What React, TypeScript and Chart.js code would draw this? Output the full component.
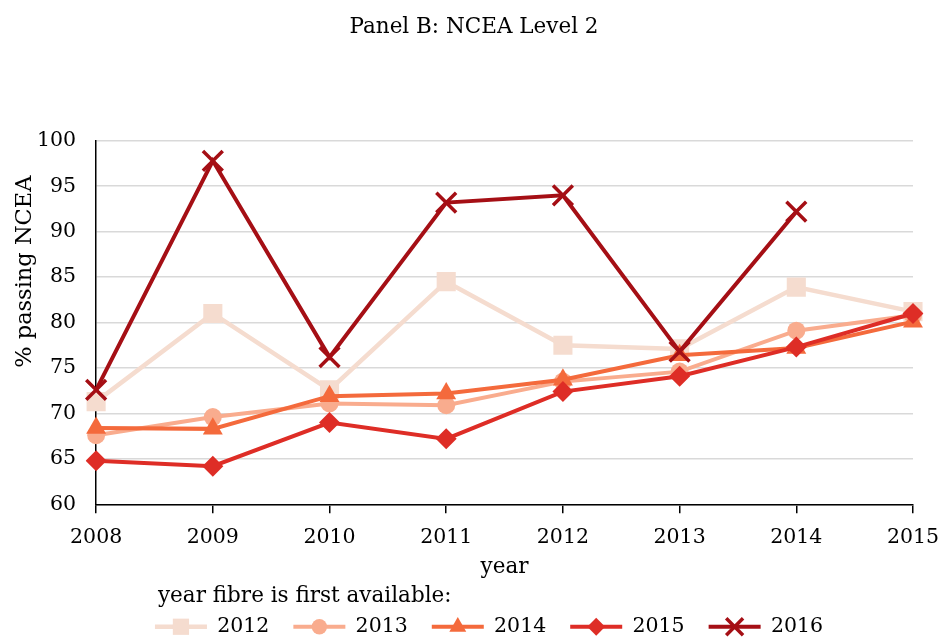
import React, { useEffect, useRef } from "react";
import { Chart, registerables } from "chart.js";
import { drawPoint } from "chart.js/helpers";

Chart.register(...registerables);

const years = ["2008", "2009", "2010", "2011", "2012", "2013", "2014", "2015"];
const seriesNames = ["2012", "2013", "2014", "2015", "2016"];
const s2012 = [71.3, 81.0, 72.6, 84.5, 77.5, 77.1, 83.9, 81.2];
const s2013 = [67.6, 69.6, 71.1, 70.9, 73.5, 74.6, 79.1, 80.8];
const s2014 = [68.4, 68.3, 71.9, 72.2, 73.7, 76.4, 77.2, 80.1];
const s2015 = [64.8, 64.2, 69.0, 67.2, 72.4, 74.1, 77.3, 81.0];
const s2016 = [72.6, 97.8, 76.2, 93.2, 94.0, 76.8, 92.2, null];
const yTicks = [60, 65, 70, 75, 80, 85, 90, 95, 100];
const legendTitleText = "year fibre is first available:";

const colors = ["#F5DCCF", "#F9AC8E", "#F46A3C", "#DE2D26", "#A50F15"];
const pointStyles = ["rect", "circle", "triangle", "rectRot", "crossRot"];
const pointRadii = [13.5, 9, 11.5, 10.5, 14];
const lineWidths = [4.5, 4, 4, 4, 4];

const FONT = "'DejaVu Serif', serif";
const LEGEND_SHIFT = 15;

export default function App() {
  const ref = useRef<HTMLCanvasElement | null>(null);
  useEffect(() => {
    document.body.style.margin = "0";
    const allData = [s2012, s2013, s2014, s2015, s2016];
    const datasets = allData.map((d, i) => ({
      label: seriesNames[i],
      data: d,
      borderColor: colors[i],
      backgroundColor: colors[i],
      borderWidth: lineWidths[i],
      pointStyle: pointStyles[i],
      pointRadius: pointRadii[i],
      pointBorderWidth: i === 4 ? 3.5 : 0,
      pointBorderColor: colors[i],
      pointBackgroundColor: colors[i],
      tension: 0,
      order: 4 - i,
      spanGaps: false,
    }));

    const legendShift = {
      id: "legendShift",
      afterLayout(chart: any) {
        const lg = chart.legend;
        if (lg) {
          lg.left += LEGEND_SHIFT;
          lg.right += LEGEND_SHIFT;
        }
      },
    };

    const customLegend = {
      id: "customLegend",
      afterDraw(chart: any) {
        const legend = chart.legend;
        if (!legend || !legend.legendHitBoxes) return;
        const ctx = chart.ctx;
        const boxW = legend.options.labels.boxWidth;
        const hb0 = legend.legendHitBoxes[0];
        ctx.save();
        ctx.font = `21.5px ${FONT}`;
        ctx.fillStyle = "#000";
        ctx.textAlign = "left";
        ctx.textBaseline = "middle";
        ctx.fillText(legendTitleText, hb0.left + 3, hb0.top + hb0.height / 2 - 30);
        ctx.restore();
        legend.legendHitBoxes.forEach((hb: any, idx: number) => {
          const item = legend.legendItems[idx];
          const i = item.datasetIndex;
          const cy = hb.top + hb.height / 2;
          ctx.save();
          ctx.strokeStyle = colors[i];
          ctx.fillStyle = colors[i];
          ctx.lineWidth = lineWidths[i];
          ctx.beginPath();
          ctx.moveTo(hb.left, cy);
          ctx.lineTo(hb.left + boxW, cy);
          ctx.stroke();
          ctx.lineWidth = i === 4 ? 3.5 : 0;
          drawPoint(
            ctx,
            { pointStyle: pointStyles[i], radius: pointRadii[i] * 0.85, rotation: 0, borderWidth: i === 4 ? 3.5 : 0 },
            hb.left + boxW / 2,
            cy
          );
          ctx.restore();
        });
      },
    };

    const yTitle = {
      id: "yTitle",
      afterDraw(chart: any) {
        const ctx = chart.ctx;
        const a = chart.chartArea;
        ctx.save();
        ctx.translate(25, a.top + (a.bottom - a.top) * 0.36);
        ctx.rotate(-Math.PI / 2);
        ctx.font = `22.5px ${FONT}`;
        ctx.fillStyle = "#000";
        ctx.textAlign = "center";
        ctx.textBaseline = "middle";
        ctx.fillText("% passing NCEA", 0, 0);
        ctx.restore();
      },
    };

    const chart = new Chart(ref.current!, {
      type: "line",
      data: { labels: years, datasets: datasets as any },
      options: {
        animation: false,
        responsive: false,
        layout: { padding: { left: 17, right: 12, top: 11, bottom: -8 } },
        plugins: {
          title: {
            display: true,
            text: "Panel B: NCEA Level 2",
            color: "#000",
            font: { family: FONT, size: 21.5, weight: "normal" as any },
            padding: { top: 4, bottom: 100 },
          },
          tooltip: { enabled: false },
          legend: {
            position: "bottom",
            align: "center",
            title: {
              display: true,
              text: legendTitleText,
              position: "start",
              color: "rgba(0,0,0,0)",
              font: { family: FONT, size: 21.5 },
              padding: { top: 6, bottom: -20 } as any,
            },
            labels: {
              color: "#000",
              font: { family: FONT, size: 20.5 },
              boxWidth: 52,
              boxHeight: 18,
              padding: 24,
              generateLabels: (chart: any) =>
                chart.data.datasets.map((ds: any, i: number) => ({
                  text: ds.label,
                  fillStyle: "rgba(0,0,0,0)",
                  strokeStyle: "rgba(0,0,0,0)",
                  lineWidth: 0,
                  hidden: false,
                  datasetIndex: i,
                  fontColor: "#000",
                })),
            },
          },
        },
        scales: {
          x: {
            type: "category",
            offset: false,
            afterFit: (scale: any) => {
              scale.paddingRight = 30;
            },
            grid: {
              drawOnChartArea: false,
              drawTicks: true,
              tickLength: 9,
              color: "#000",
              lineWidth: 1.5,
            },
            border: { display: true, color: "#000", width: 1.5 },
            ticks: { color: "#000", font: { family: FONT, size: 20.5 }, padding: 12, maxRotation: 0 },
            title: {
              display: true,
              text: "year",
              color: "#000",
              font: { family: FONT, size: 21.5 },
              padding: { top: -7, bottom: 0 },
            },
          },
          y: {
            min: 60,
            max: 100,
            afterBuildTicks: (scale: any) => {
              scale.ticks = yTicks.map((v) => ({ value: v }));
            },
            grid: { color: "#D9D9D9", lineWidth: 1.5, drawTicks: false },
            border: { display: true, color: "#000", width: 1.5 },
            ticks: { color: "#000", font: { family: FONT, size: 20.5 }, padding: 20 },
          },
        },
      },
      plugins: [legendShift, customLegend, yTitle],
    });
    return () => chart.destroy();
  }, []);
  return (
    <div style={{ position: "fixed", left: 0, top: 0, width: 943, height: 639, background: "#fff" }}>
      <canvas ref={ref} width={943} height={639} style={{ display: "block" }} />
    </div>
  );
}
